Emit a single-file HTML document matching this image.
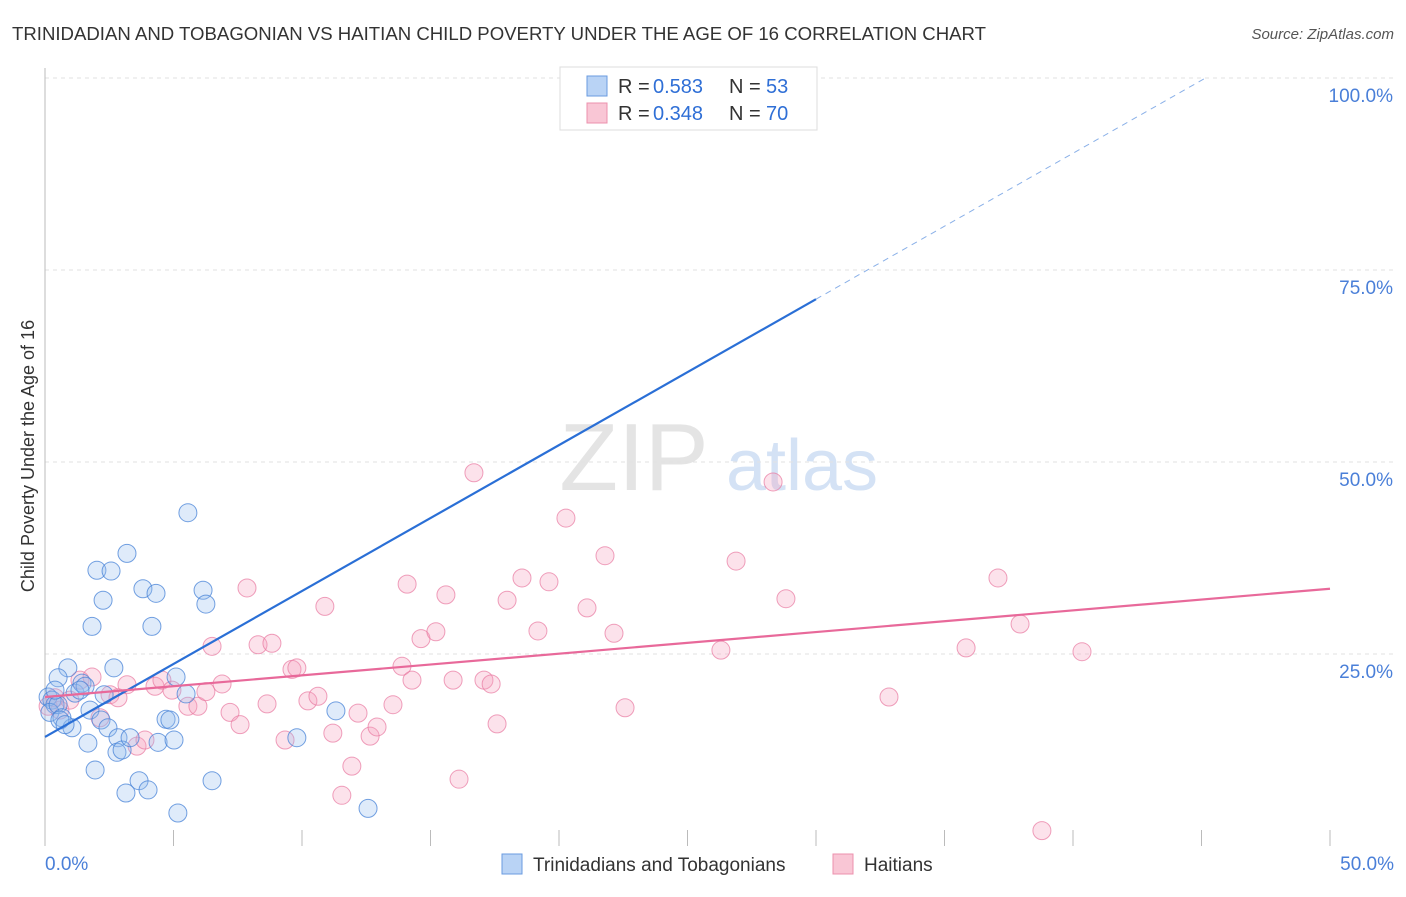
<!DOCTYPE html>
<html><head><meta charset="utf-8"><style>
body{margin:0;background:#fff;font-family:"Liberation Sans",sans-serif;}
svg text{font-family:"Liberation Sans",sans-serif;}
</style></head><body>
<svg id="chart" width="1406" height="892">
<text x="12" y="40" font-size="18" fill="#333" textLength="974" lengthAdjust="spacingAndGlyphs">TRINIDADIAN AND TOBAGONIAN VS HAITIAN CHILD POVERTY UNDER THE AGE OF 16 CORRELATION CHART</text>
<text x="1394" y="39" font-size="15" fill="#555" text-anchor="end" font-style="italic">Source: ZipAtlas.com</text>
<text x="0" y="0" transform="translate(34,456) rotate(-90)" font-size="18" fill="#333" text-anchor="middle">Child Poverty Under the Age of 16</text>
<g><text x="634" y="490" font-size="96" fill="#e4e4e4" text-anchor="middle" font-family="Liberation Serif">ZIP</text><text x="802" y="490" font-size="72" fill="#d4e2f5" text-anchor="middle">atlas</text></g>
<g id="grid"></g><g id="axes"></g><g id="pts"></g><g id="lines"></g>
<g>
<rect x="560" y="67" width="257" height="63" fill="#fff" stroke="#ddd"/>
<rect x="587" y="76" width="20" height="20" fill="#b9d3f5" stroke="#6a9be0"/>
<rect x="587" y="103" width="20" height="20" fill="#f9c6d5" stroke="#ec90ad"/>
<text x="618" y="93" font-size="20" fill="#333">R =</text><text x="653" y="93" font-size="20" fill="#2f6fd6">0.583</text>
<text x="729" y="93" font-size="20" fill="#333">N =</text><text x="766" y="93" font-size="20" fill="#2f6fd6">53</text>
<text x="618" y="120" font-size="20" fill="#333">R =</text><text x="653" y="120" font-size="20" fill="#2f6fd6">0.348</text>
<text x="729" y="120" font-size="20" fill="#333">N =</text><text x="766" y="120" font-size="20" fill="#2f6fd6">70</text>
</g>
<g>
<rect x="502" y="854" width="20" height="20" fill="#b9d3f5" stroke="#6a9be0"/>
<text x="533" y="871" font-size="19" fill="#333">Trinidadians and Tobagonians</text>
<rect x="833" y="854" width="20" height="20" fill="#f9c6d5" stroke="#ec90ad"/>
<text x="864" y="871" font-size="19" fill="#333">Haitians</text>
</g>
</svg>
<script>
const blueX=[0.12,0.27,0.39,0.19,0.51,0.66,0.89,0.51,1.17,1.44,1.56,1.75,1.05,1.67,1.95,2.02,1.83,2.26,2.57,3.19,2.30,2.18,2.45,2.68,2.84,2.80,3.00,3.31,3.66,3.15,4.01,3.81,4.16,4.32,4.40,4.71,4.86,5.02,5.10,5.49,5.56,6.15,6.26,6.50,5.17,9.80,11.32,12.57,28.2,0.58,0.78,1.36,0.39];
const blueY=[19.4,19.0,18.4,17.4,18.4,16.7,23.2,21.9,19.9,21.2,20.8,17.7,15.4,13.4,9.9,35.9,28.6,32.0,35.8,38.1,19.7,16.4,15.4,23.2,14.1,12.2,12.5,14.1,8.5,6.9,7.3,33.5,28.6,32.9,13.5,16.5,16.4,13.8,22.0,19.8,43.4,33.3,31.5,8.5,4.3,14.1,17.6,4.9,99.7,16.4,15.8,20.3,20.3];
const pinkX=[0.12,0.39,0.58,0.97,1.36,1.83,2.14,2.53,2.84,3.19,3.58,3.89,4.28,4.55,4.94,5.56,5.95,6.26,6.50,6.89,7.20,7.59,7.86,8.29,8.64,8.83,9.34,9.61,9.80,10.23,10.62,10.89,11.20,11.55,11.94,12.18,12.65,12.92,13.54,13.89,14.28,14.09,14.63,15.21,15.60,15.88,16.11,16.69,17.08,17.36,17.59,17.98,19.18,19.61,20.27,21.09,21.79,22.14,22.57,26.30,26.89,28.83,32.84,35.84,37.08,37.94,38.79,40.35,28.33,18.56];
const pinkY=[18.2,19.3,17.7,19.0,21.6,22.0,16.7,19.7,19.3,21.0,13.0,13.8,20.8,21.6,20.3,18.2,18.2,20.1,26.0,21.1,17.4,15.8,33.6,26.2,18.5,26.4,13.8,23.0,23.2,18.9,19.5,31.2,14.7,6.6,10.4,17.3,14.3,15.5,18.4,23.4,21.6,34.1,27.0,27.9,32.7,21.6,8.7,48.6,21.6,21.1,15.9,32.0,28.0,34.4,42.7,31.0,37.8,27.7,18.0,25.5,37.1,32.2,19.4,25.8,34.9,28.9,2.0,25.3,47.4,34.9];
const blueLine=[14.2,1.9];
const pinkLine=[19.4,0.282];
const yTicks=[25,50,75,100];
const xTicks=[0,5,10,15,20,25,30,35,40,45,50];
const NS="http://www.w3.org/2000/svg";
const sx=v=>45+v/50*1285, sy=v=>846-v/100*768;
function mk(p,t,a){const e=document.createElementNS(NS,t);for(const k in a)e.setAttribute(k,a[k]);document.getElementById(p).appendChild(e);return e;}
yTicks.forEach(t=>{
 const l=mk('grid','line',{x1:45,x2:1394,y1:sy(t),y2:sy(t),stroke:'#e2e2e2','stroke-dasharray':'4,4'});
 
 
 const tx=mk('grid','text',{x:1393,y:sy(t)+24,'font-size':19,fill:'#4a7fd8','text-anchor':'end'});tx.textContent=t.toFixed(1)+'%';
 
 
});
const ax=mk('axes','line',{x1:45,x2:45,y1:68,y2:846,stroke:'#bbb'});


xTicks.forEach(t=>{
 const l=mk('axes','line',{x1:sx(t),x2:sx(t),y1:830,y2:846,stroke:'#bbb'});
 
 
});
[[0,45,'start'],[50,1394,'end']].forEach(([v,x,a])=>{
 const tx=mk('axes','text',{x:x,y:870,'font-size':19,fill:'#4a7fd8','text-anchor':a});tx.textContent=v.toFixed(1)+'%';
 
 
});
pinkX.forEach((x,i)=>{
 const c=mk('pts','circle',{cx:sx(x),cy:sy(pinkY[i]),r:9,fill:'rgba(244,160,188,0.3)',stroke:'rgba(232,120,160,0.7)','stroke-width':1});
 
 
});
blueX.forEach((x,i)=>{
 const c=mk('pts','circle',{cx:sx(x),cy:sy(blueY[i]),r:9,fill:'rgba(150,190,240,0.3)',stroke:'rgba(70,130,215,0.75)','stroke-width':1});
 
 
});
const bEnd=30, bMax=(100-blueLine[0])/blueLine[1];
let l=mk('lines','line',{x1:sx(0),y1:sy(blueLine[0]),x2:sx(bEnd),y2:sy(blueLine[0]+blueLine[1]*bEnd),stroke:'#2a6fd6','stroke-width':2.2});


l=mk('lines','line',{x1:sx(bEnd),y1:sy(blueLine[0]+blueLine[1]*bEnd),x2:sx(bMax),y2:sy(100),stroke:'#8ab0e8','stroke-width':1,'stroke-dasharray':'6,5'});


l=mk('lines','line',{x1:sx(0),y1:sy(pinkLine[0]),x2:sx(50),y2:sy(pinkLine[0]+pinkLine[1]*50),stroke:'#e8699a','stroke-width':2.2});


</script>
</body></html>
